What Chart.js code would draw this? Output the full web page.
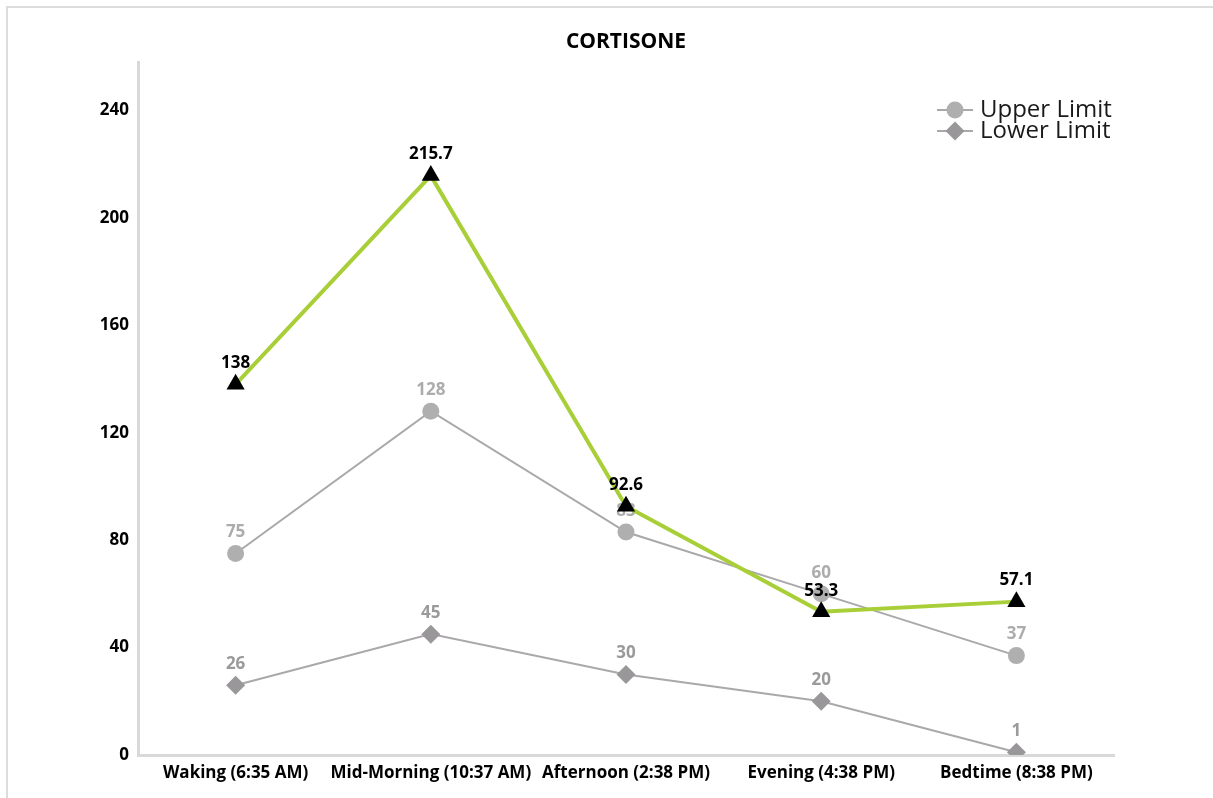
<!DOCTYPE html>
<html>
<head>
<meta charset="utf-8">
<title>Cortisone</title>
<script src="https://cdn.jsdelivr.net/npm/chart.js@4/dist/chart.umd.min.js"></script>
<style>
  html, body { margin: 0; padding: 0; background: #fff; overflow: hidden; }
  #wrap { position: relative; width: 1213px; height: 798px; }
  #frame { position: absolute; left: 6px; top: 6px; width: 1240px; height: 840px;
           border-top: 2px solid #dcdcdc; border-left: 2px solid #dcdcdc; }
  canvas { position: absolute; left: 0; top: 0; }
</style>
</head>
<body>
<div id="wrap">
  <div id="frame"></div>
  <canvas id="chart" width="1213" height="798"></canvas>
</div>
<script>
// Sampling times across the day
const categories = [
  'Waking (6:35 AM)',
  'Mid-Morning (10:37 AM)',
  'Afternoon (2:38 PM)',
  'Evening (4:38 PM)',
  'Bedtime (8:38 PM)'
];
// Measured cortisone values
const cortisone = [138, 215.7, 92.6, 53.3, 57.1];
// Reference range
const upperLimit = [75, 128, 83, 60, 37];
const lowerLimit = [26, 45, 30, 20, 1];
// Value axis ticks
const yTickValues = [0, 40, 80, 120, 160, 200, 240];
const yMax = 258;

const FONT = "'Open Sans', 'Noto Sans', sans-serif";

// Value labels drawn above each point, right after its dataset is painted
const valueLabels = {
  id: 'valueLabels',
  afterDatasetDraw(chart, args) {
    const ds = chart.data.datasets[args.index];
    const meta = args.meta;
    const ctx = chart.ctx;
    ctx.save();
    ctx.font = 'bold 17px ' + FONT;
    ctx.fillStyle = ds.labelColor;
    ctx.textAlign = 'center';
    ctx.textBaseline = 'middle';
    meta.data.forEach((pt, i) => {
      ctx.fillText(String(ds.data[i]), pt.x, pt.y - 21);
    });
    ctx.restore();
  }
};

// Title centred over the plot area and legend in its upper right corner
const decorations = {
  id: 'decorations',
  afterDraw(chart) {
    const ctx = chart.ctx;
    const area = chart.chartArea;
    ctx.save();
    ctx.font = 'bold 21px ' + FONT;
    ctx.fillStyle = '#000';
    ctx.textAlign = 'center';
    ctx.textBaseline = 'middle';
    ctx.fillText('CORTISONE', (area.left + area.right) / 2, 42);

    const items = chart.data.datasets.filter(d => d.inLegend);
    items.forEach((ds, k) => {
      const y = 110 + k * 21;
      ctx.strokeStyle = ds.borderColor;
      ctx.lineWidth = 2;
      ctx.beginPath();
      ctx.moveTo(937, y);
      ctx.lineTo(973, y);
      ctx.stroke();
      ctx.fillStyle = ds.pointBackgroundColor;
      ctx.beginPath();
      const r = ds.pointRadius;
      if (ds.pointStyle === 'circle') {
        ctx.arc(955, y, r, 0, Math.PI * 2);
      } else {
        ctx.moveTo(955, y - r); ctx.lineTo(955 + r, y);
        ctx.lineTo(955, y + r); ctx.lineTo(955 - r, y);
        ctx.closePath();
      }
      ctx.fill();
      ctx.fillStyle = '#1a1a1a';
      ctx.font = '24px ' + FONT;
      ctx.textAlign = 'left';
      ctx.fillText(ds.label, 980, y);
    });
    ctx.restore();
  }
};

new Chart(document.getElementById('chart'), {
  type: 'line',
  data: {
    labels: categories,
    datasets: [
      {
        label: 'Cortisone',
        data: cortisone,
        borderColor: '#a8cf38',
        borderWidth: 4,
        pointStyle: 'triangle',
        pointRadius: 10.5,
        pointHoverRadius: 10.5,
        pointBackgroundColor: '#000',
        pointBorderColor: '#000',
        pointBorderWidth: 0,
        labelColor: '#000',
        tension: 0,
        order: 0,
        inLegend: false
      },
      {
        label: 'Upper Limit',
        data: upperLimit,
        borderColor: '#a9a9a9',
        borderWidth: 2,
        pointStyle: 'circle',
        pointRadius: 8.5,
        pointHoverRadius: 8.5,
        pointBackgroundColor: '#b0afb0',
        pointBorderColor: '#b0afb0',
        pointBorderWidth: 0,
        labelColor: '#acacac',
        tension: 0,
        order: 1,
        inLegend: true
      },
      {
        label: 'Lower Limit',
        data: lowerLimit,
        borderColor: '#a9a9a9',
        borderWidth: 2,
        pointStyle: 'rectRot',
        pointRadius: 9.5,
        pointHoverRadius: 9.5,
        pointBackgroundColor: '#999799',
        pointBorderColor: '#999799',
        pointBorderWidth: 0,
        labelColor: '#9a9a9a',
        tension: 0,
        order: 2,
        inLegend: true
      }
    ]
  },
  options: {
    responsive: false,
    animation: false,
    devicePixelRatio: 1,
    layout: { padding: { top: 62, right: 99, left: 0, bottom: 0 } },
    plugins: {
      legend: { display: false },
      title: { display: false },
      tooltip: { enabled: false }
    },
    scales: {
      x: {
        offset: true,
        grid: { display: false, drawTicks: false },
        border: { display: true, color: '#d9d9d9', width: 3 },
        ticks: {
          color: '#000',
          font: { family: FONT, size: 17, weight: 'bold' },
          padding: 8,
          maxRotation: 0,
          autoSkip: false
        },
        afterFit(scale) { scale.height = 43; }
      },
      y: {
        min: 0,
        max: yMax,
        grid: { display: false, drawTicks: false },
        border: { display: true, color: '#d9d9d9', width: 3 },
        ticks: {
          color: '#000',
          font: { family: FONT, size: 17, weight: 'bold' },
          padding: 9
        },
        afterBuildTicks(scale) {
          scale.ticks = yTickValues.map(v => ({ value: v }));
        },
        afterFit(scale) { scale.width = 138; }
      }
    }
  },
  plugins: [valueLabels, decorations]
});
</script>
</body>
</html>
